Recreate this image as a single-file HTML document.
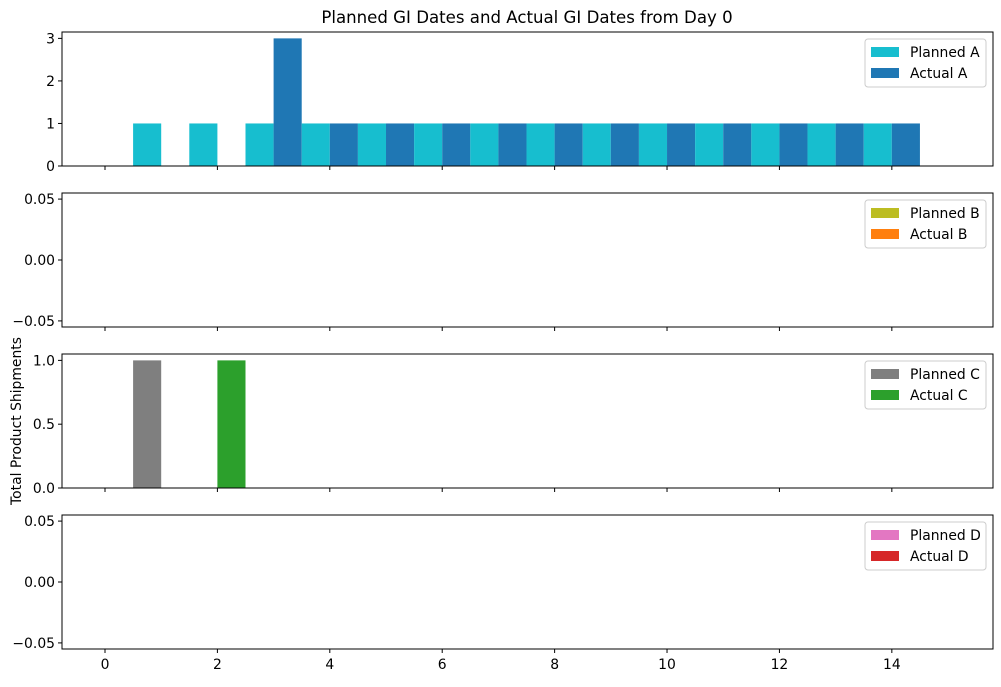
<!DOCTYPE html>
<html><head><meta charset="utf-8"><style>
body{margin:0;background:#fff}
svg{font-family:"DejaVu Sans","Liberation Sans",sans-serif;font-size:13.9px}
</style></head><body>
<svg id="chart" width="1001" height="682" xmlns="http://www.w3.org/2000/svg">
<text x="527" y="23" text-anchor="middle" font-size="16.6">Planned GI Dates and Actual GI Dates from Day 0</text>
<text transform="translate(21,421) rotate(-90)" text-anchor="middle" font-size="13.9">Total Product Shipments</text>
</svg>
<script>
const days = [0,1,2,3,4,5,6,7,8,9,10,11,12,13,14];
const plannedA = [0,1,1,1,1,1,1,1,1,1,1,1,1,1,1];
const actualA  = [0,0,0,3,1,1,1,1,1,1,1,1,1,1,1];
const plannedB = [0,0,0,0,0,0,0,0,0,0,0,0,0,0,0];
const actualB  = [0,0,0,0,0,0,0,0,0,0,0,0,0,0,0];
const plannedC = [0,1,0,0,0,0,0,0,0,0,0,0,0,0,0];
const actualC  = [0,0,1,0,0,0,0,0,0,0,0,0,0,0,0];
const plannedD = [0,0,0,0,0,0,0,0,0,0,0,0,0,0,0];
const actualD  = [0,0,0,0,0,0,0,0,0,0,0,0,0,0,0];
const xTicks = [0,2,4,6,8,10,12,14];
const ticksA = [0,1,2,3];
const ticksC = [0,0.5,1.0];
const ticksZero = [-0.05,0,0.05];

const NS="http://www.w3.org/2000/svg";
const svg=document.getElementById('chart');
function mk(t,a,p){const e=document.createElementNS(NS,t);for(const k in a)e.setAttribute(k,a[k]);(p||svg).appendChild(e);return e;}
const L=62,R=993,xmin=-0.765,xmax=15.8;
const xs=v=>L+(v-xmin)/(xmax-xmin)*(R-L);
const panels=[
 {key:'a',top:32,bot:166,ymin:0,ymax:3.15,ticks:ticksA,fmt:v=>String(v),p:plannedA,a:actualA,pc:'#17becf',ac:'#1f77b4',pl:'Planned A',al:'Actual A'},
 {key:'b',top:193,bot:327,ymin:-0.055,ymax:0.055,ticks:ticksZero,fmt:v=>v.toFixed(2).replace('-','−'),p:plannedB,a:actualB,pc:'#bcbd22',ac:'#ff7f0e',pl:'Planned B',al:'Actual B'},
 {key:'c',top:354,bot:488,ymin:0,ymax:1.05,ticks:ticksC,fmt:v=>v.toFixed(1),p:plannedC,a:actualC,pc:'#7f7f7f',ac:'#2ca02c',pl:'Planned C',al:'Actual C'},
 {key:'d',top:515,bot:649,ymin:-0.055,ymax:0.055,ticks:ticksZero,fmt:v=>v.toFixed(2).replace('-','−'),p:plannedD,a:actualD,pc:'#e377c2',ac:'#d62728',pl:'Planned D',al:'Actual D'}
];
panels.forEach((P,i)=>{
 const g=mk('g',{});
 
 
 const ys=v=>P.bot-(v-P.ymin)/(P.ymax-P.ymin)*(P.bot-P.top);
 const base=Math.max(P.ymin,0);
 days.forEach((d,j)=>{
  if(P.p[j]>0){const r=mk('rect',{x:xs(d-0.5),y:ys(P.p[j]),width:xs(d)-xs(d-0.5),height:ys(base)-ys(P.p[j]),fill:P.pc},g);
   
   }
  if(P.a[j]>0){const r=mk('rect',{x:xs(d),y:ys(P.a[j]),width:xs(d+0.5)-xs(d),height:ys(base)-ys(P.a[j]),fill:P.ac},g);
   
   }
 });
 mk('rect',{x:L,y:P.top,width:R-L,height:P.bot-P.top,fill:'none',stroke:'#000','stroke-width':1},g);
 P.ticks.forEach(t=>{
  const y=ys(t);
  mk('line',{x1:L-4,x2:L,y1:y,y2:y,stroke:'#000'},g);
  const tx=mk('text',{x:L-7,y:y+5,'text-anchor':'end'},g);
  tx.textContent=P.fmt(t);
  
  
 });
 xTicks.forEach(t=>{
  const x=xs(t);
  mk('line',{x1:x,x2:x,y1:P.bot,y2:P.bot+4,stroke:'#000'},g);
  if(i===3){const tx=mk('text',{x:x,y:P.bot+20,'text-anchor':'middle'},g);tx.textContent=t;
   
   }
 });
 const lg=mk('g',{},g);
 
 
 mk('rect',{x:865,y:P.top+7,width:121,height:48,rx:3,fill:'#fff',stroke:'#ccc'},lg);
 [[P.pl,P.pc],[P.al,P.ac]].forEach((e,k)=>{
  const yy=P.top+15+k*21;
  mk('rect',{x:871,y:yy,width:28,height:10,fill:e[1]},lg);
  const tx=mk('text',{x:910,y:yy+10},lg);tx.textContent=e[0];
  
  
 });
});
</script>
</body></html>
